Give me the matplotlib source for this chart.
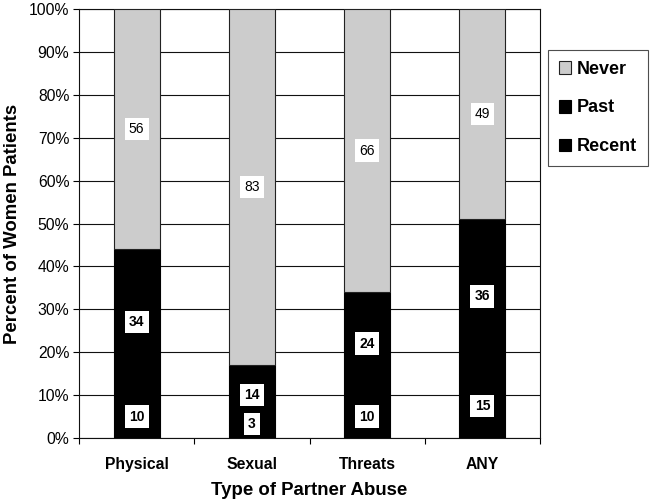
import matplotlib
matplotlib.use("Agg")
import matplotlib.pyplot as plt
import numpy as np

plt.rcParams['font.family'] = ['Liberation Sans', 'DejaVu Sans']

categories = ["Physical", "Sexual", "Threats", "ANY"]
recent = [10, 3, 10, 15]
past = [34, 14, 24, 36]
never = [56, 83, 66, 49]
y_ticks = [0, 10, 20, 30, 40, 50, 60, 70, 80, 90, 100]

fig = plt.figure(figsize=(6.66, 5.04), dpi=100)
ax = fig.add_axes([79/666, 66/504, 461/666, 429/504])

x = np.arange(len(categories))
w = 0.4
rec = np.array(recent)
pas = np.array(past)
nev = np.array(never)

b1 = ax.bar(x, rec, w, color='black', edgecolor='black', linewidth=0.8, zorder=3, label='Recent')
b2 = ax.bar(x, pas, w, bottom=rec, color='black', edgecolor='black', linewidth=0.8, zorder=3, label='Past')
b3 = ax.bar(x, nev, w, bottom=rec + pas, color='#cccccc', edgecolor='#222222', linewidth=0.8, zorder=3, label='Never')

box_b = dict(boxstyle='square,pad=0.3', facecolor='white', edgecolor='none')
for i in range(len(categories)):
    c = rec[i] / 2
    yy = c if rec[i] >= 8 else 3.3
    ax.text(x[i], yy, str(rec[i]), ha='center', va='center', fontsize=10, fontweight='bold', bbox=box_b, zorder=5)
    ax.text(x[i], rec[i] + pas[i] / 2, str(pas[i]), ha='center', va='center', fontsize=10, fontweight='bold', bbox=box_b, zorder=5)
    ax.text(x[i], rec[i] + pas[i] + nev[i] / 2, str(nev[i]), ha='center', va='center', fontsize=10, fontweight='normal', bbox=box_b, zorder=5)

ax.set_xlim(-0.5, len(categories) - 0.5)
ax.set_ylim(0, 100)
ax.set_yticks(y_ticks)
ax.set_yticklabels([f"{t}%" for t in y_ticks], fontsize=11.3)
ax.yaxis.grid(True, color='#111111', linewidth=0.8, zorder=0)
ax.set_axisbelow(True)

ax.set_xticks(x)
ax.set_xticklabels(categories, fontsize=11.3, fontweight='bold')
ax.tick_params(axis='x', length=0, pad=14)
ax.set_xticks(np.arange(len(categories) + 1) - 0.5, minor=True)
ax.tick_params(axis='x', which='minor', length=4, width=0.8, direction='out')
ax.tick_params(axis='y', length=4, width=0.8, direction='out', pad=3)

for s in ax.spines.values():
    s.set_linewidth(0.8)
    s.set_color('#111111')

ax.set_xlabel("Type of Partner Abuse", fontsize=13.4, fontweight='bold', labelpad=7)
ax.set_ylabel("Percent of Women Patients", fontsize=13.4, fontweight='bold', labelpad=6)

leg = fig.legend(handles=[b3, b2, b1], labels=['Never', 'Past', 'Recent'],
                 loc='upper left', bbox_to_anchor=(548/666, 1 - 50/504),
                 prop={'size': 13, 'weight': 'bold'}, frameon=True, fancybox=False,
                 edgecolor='#222222', handlelength=0.7, handleheight=0.7,
                 handletextpad=0.3, labelspacing=1.2, borderpad=0.6, borderaxespad=0)
leg.get_frame().set_linewidth(0.8)

fig.savefig("out.png", dpi=100)
